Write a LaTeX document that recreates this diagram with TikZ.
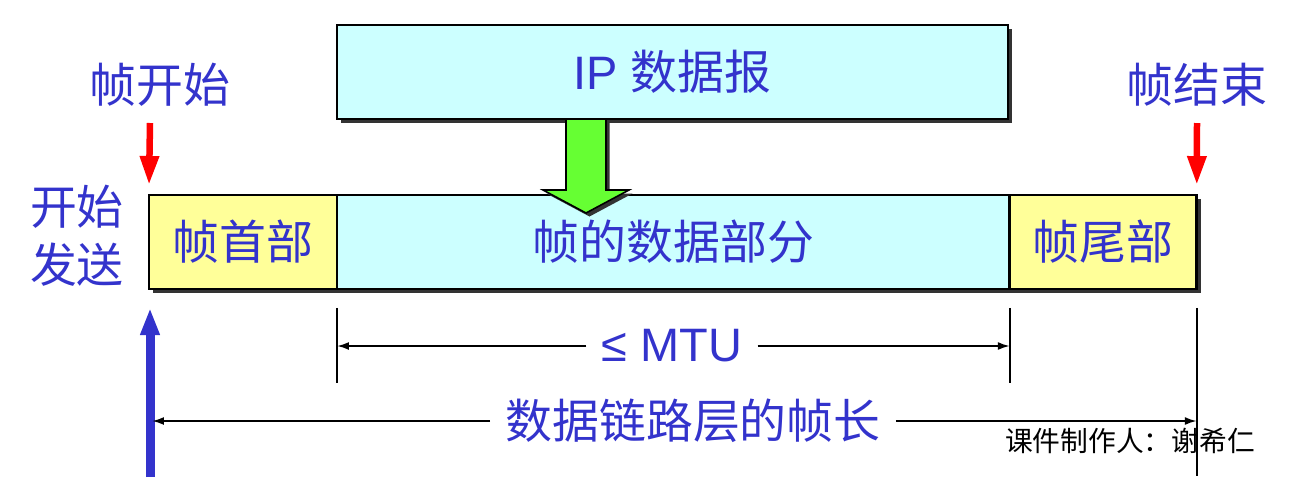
\documentclass[tikz,border=0pt]{standalone}
\usepackage{fontspec}
\setmainfont{Liberation Sans}
\newfontfamily\cjk{Noto Sans CJK SC}
\usetikzlibrary{arrows.meta,positioning,calc,shadows}
\definecolor{txtblue}{HTML}{3333CC}
\definecolor{hdrfill}{HTML}{FFFF99}
\definecolor{datfill}{HTML}{CCFFFF}
\definecolor{arrfill}{HTML}{66FF33}

\begin{document}
\begin{tikzpicture}[x=0.02cm,y=-0.02cm,
  big/.style={font=\fontsize{26.7}{33}\selectfont\cjk,text=txtblue,inner sep=0pt},
  box/.style={draw,line width=1.6pt,inner sep=0pt,outer sep=0pt,minimum height=1.88cm,
    drop shadow={shadow xshift=0.08cm,shadow yshift=-0.08cm,fill=black!80,opacity=1}},
  dim/.style={line width=1.1pt,-{Latex[length=0.24cm,width=0.16cm]}},
  tick/.style={line width=1.1pt},
  redarrow/.style={red,line width=0.13cm,-{Triangle[length=0.58cm,width=0.36cm]}},
  bluearrow/.style={txtblue,line width=0.18cm,-{Triangle[length=0.54cm,width=0.36cm]}}]
\useasboundingbox (0,0) rectangle (1299,491);
% IP datagram and frame
\node[box,fill=datfill,minimum width=13.42cm] (ip) at (672.5,72) {};
\node[big] at (ip.center) {\rmfamily IP \cjk 数据报};
\node[box,fill=hdrfill,minimum width=3.76cm] (head) at (243,242) {};
\node[box,fill=datfill,minimum width=13.46cm,right=0pt of head] (data) {};
\node[box,fill=hdrfill,minimum width=3.74cm,right=0pt of data] (tail) {};
\node[big] at (head.center) {帧首部};
\node[big] at (data.center) {帧的数据部分};
\node[big] at (tail.center) {帧尾部};
% green arrow
\filldraw[fill=arrfill,line width=0.9pt,
  drop shadow={shadow xshift=0.07cm,shadow yshift=-0.07cm,fill=black!80,opacity=1}]
  (566,119) -- (606,119) -- (606,190) -- (629,190) -- (586,213) -- (543,190) -- (566,190) -- cycle;
% start / end marks
\node[big] (fstart) at (160,85) {帧开始};
\node[big] (fend) at (1197,85) {帧结束};
\node[big,align=center] (send) at (77,236) {开始\\发送};
\coordinate (sA) at (150,123);
\coordinate (sB) at (1197,123);
\draw[redarrow] (sA) -- ([yshift=0.2cm]head.north west);
\draw[redarrow] (sB) -- ([yshift=0.2cm]tail.north east);
% MTU
\coordinate (m1) at ($(data.south west)+(0,19)$);
\coordinate (m2) at ($(data.south west)+(0,94)$);
\coordinate (m3) at ($(data.south east)+(0,19)$);
\coordinate (m4) at ($(data.south east)+(0,94)$);
\draw[tick] (m1) -- (m2);
\draw[tick] (m3) -- (m4);
\node[big,font=\fontsize{26.7}{33}\selectfont\rmfamily,inner xsep=0.3cm] (mtu) at (672,346) {≤ MTU};
\draw[dim] (mtu.west) -- (mtu.west -| m1);
\draw[dim] (mtu.east) -- (mtu.east -| m3);
% frame length
\coordinate (e1) at ($(tail.south east)+(0,19)$);
\coordinate (e2) at ($(tail.south east)+(0,187)$);
\draw[tick] (e1) -- (e2);
\coordinate (b1) at (150,477);
\coordinate (b2) at (150,308);
\draw[bluearrow] (b1) -- (b2);
\node[big,inner xsep=0.3cm] (flen) at (693,421) {数据链路层的帧长};
\draw[dim] (flen.west) -- ([xshift=0.04cm]flen.west -| b1);
\draw[dim] (flen.east) -- (flen.east -| e1);
\node[font=\fontsize{15.8}{18}\selectfont\cjk,inner sep=0pt] (author) at (1130,441) {课件制作人：谢希仁};
\end{tikzpicture}
\end{document}
